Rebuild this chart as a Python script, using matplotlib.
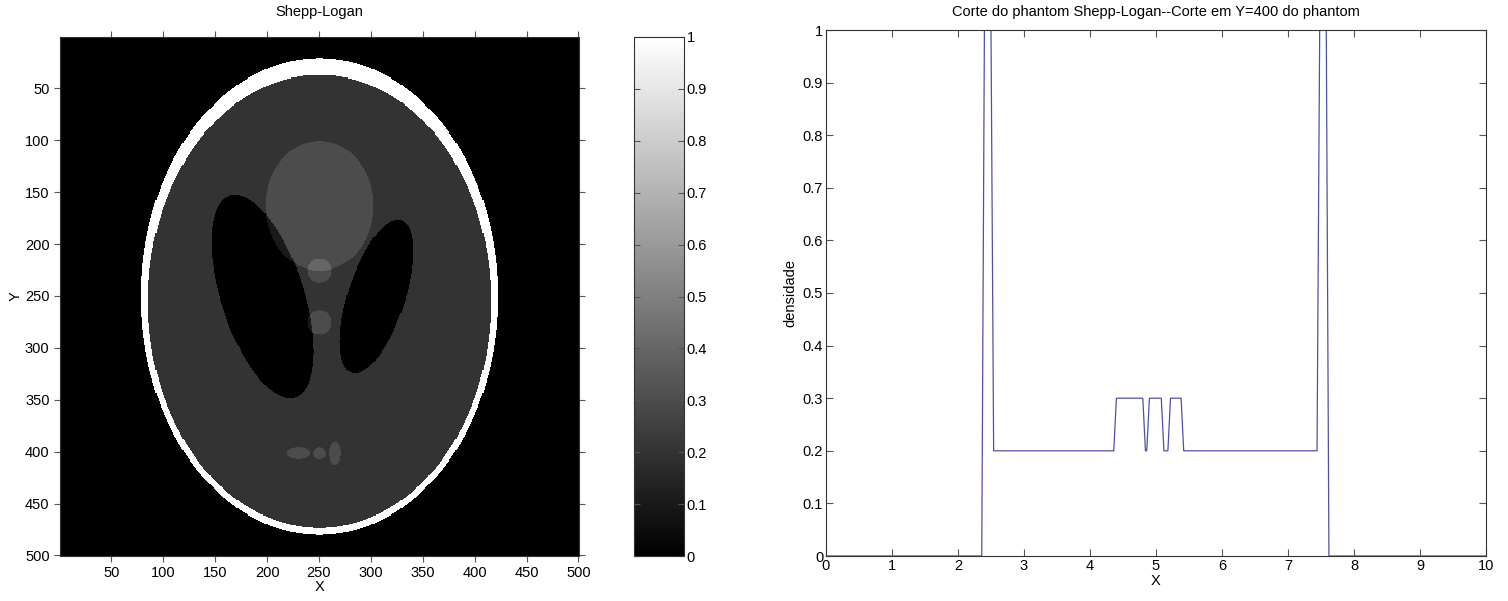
import numpy as np
import matplotlib
matplotlib.use('Agg')
import matplotlib.pyplot as plt

plt.rcParams['font.family'] = ['Liberation Sans', 'DejaVu Sans']
plt.rcParams['font.size'] = 10.5
plt.rcParams['axes.linewidth'] = 0.8
plt.rcParams['axes.edgecolor'] = '#333333'

n = 500

# modified Shepp-Logan: intensity, semi-axes, centre and rotation (degrees) of each ellipse
ell_amp = [1.0, -0.8, -0.2, -0.2, 0.1, 0.1, 0.1, 0.1, 0.1, 0.1]
ell_a = [0.69, 0.6624, 0.11, 0.16, 0.21, 0.046, 0.046, 0.046, 0.023, 0.023]
ell_b = [0.92, 0.874, 0.31, 0.41, 0.25, 0.046, 0.046, 0.023, 0.023, 0.046]
ell_x0 = [0.0, 0.0, 0.22, -0.22, 0.0, 0.0, 0.0, -0.08, 0.0, 0.06]
ell_y0 = [0.0, -0.0184, 0.0, 0.0, 0.35, 0.1, -0.1, -0.605, -0.606, -0.605]
ell_phi = [0, 0, -18, 18, 0, 0, 0, 0, 0, 0]

# cut of the phantom along the line Y=400 (X in units of 50 pixels)
cut_x = [0.02, 2.36, 2.38, 2.40, 2.50, 2.52, 2.54,
         4.36, 4.38, 4.40, 4.80, 4.82, 4.84, 4.86, 4.88, 4.90,
         5.08, 5.10, 5.12, 5.18, 5.20, 5.22, 5.38, 5.40, 5.42,
         7.44, 7.46, 7.48, 7.58, 7.60, 7.62, 10.0]
cut_y = [0.0, 0.0, 0.5, 1.0, 1.0, 0.6, 0.2,
         0.2, 0.25, 0.3, 0.3, 0.25, 0.2, 0.2, 0.25, 0.3,
         0.3, 0.25, 0.2, 0.2, 0.25, 0.3, 0.3, 0.25, 0.2,
         0.2, 0.6, 1.0, 1.0, 0.5, 0.0, 0.0]

# build the phantom on an n x n grid, rows going from y=+1 (top) to y=-1
ax_vals = (np.arange(n) - (n - 1) / 2) / ((n - 1) / 2)
xg, yg = np.meshgrid(ax_vals, ax_vals[::-1])
phantom = np.zeros((n, n))
for A, a, b, x0, y0, phi in zip(ell_amp, ell_a, ell_b, ell_x0, ell_y0, ell_phi):
    p = np.deg2rad(phi)
    x = xg - x0
    y = yg - y0
    inside = ((x * np.cos(p) + y * np.sin(p)) ** 2 / a ** 2 +
              (y * np.cos(p) - x * np.sin(p)) ** 2 / b ** 2) <= 1
    phantom[inside] += A

fig = plt.figure(figsize=(15.08, 6.01), dpi=100)

# phantom image
ax1 = fig.add_axes([60 / 1508, 45 / 601, 519 / 1508, 519 / 601])
im = ax1.imshow(phantom, cmap='gray', vmin=0, vmax=1, interpolation='nearest',
                extent=(0.5, n + 0.5, n + 0.5, 0.5), aspect='auto')
ax1.set_xticks(np.arange(50, 501, 50))
ax1.set_yticks(np.arange(50, 501, 50))
ax1.tick_params(direction='out', length=4, width=0.8, color='#555555',
                top=True, right=True, labeltop=False, labelright=False)
ax1.set_title('Shepp-Logan', fontsize=10.5, pad=15)
ax1.set_xlabel('X', labelpad=0)
ax1.set_ylabel('Y', labelpad=2)

# colour bar
cax = fig.add_axes([634 / 1508, 45 / 601, 50 / 1508, 519 / 601])
cb = fig.colorbar(im, cax=cax, ticks=np.arange(0, 1.01, 0.1))
cb.ax.set_yticklabels(['0'] + ['%.1f' % v for v in np.arange(0.1, 0.95, 0.1)] + ['1'])
cb.outline.set_linewidth(0.8)
cb.outline.set_edgecolor('#333333')
cax.tick_params(direction='in', length=4, width=0.8, color='#555555',
                left=True, right=True, pad=2)

# cut along Y=400
ax2 = fig.add_axes([826 / 1508, 45 / 601, 660 / 1508, 526 / 601])
ax2.plot(cut_x, cut_y, color='#5050aa', linewidth=0.9)
ax2.set_xlim(0, 10)
ax2.set_ylim(0, 1)
ax2.set_xticks(np.arange(0, 11, 1))
ax2.set_yticks(np.arange(0, 1.01, 0.1))
ax2.set_yticklabels(['0'] + ['%.1f' % v for v in np.arange(0.1, 0.95, 0.1)] + ['1'])
ax2.tick_params(direction='in', length=5, width=0.8, color='#555555',
                top=True, right=True, pad=2)
ax2.set_title('Corte do phantom Shepp-Logan--Corte em Y=400 do phantom',
              fontsize=10.5, pad=10)
ax2.set_xlabel('X', labelpad=1)
ax2.set_ylabel('densidade', labelpad=4)

plt.savefig('out.png', dpi=100)
